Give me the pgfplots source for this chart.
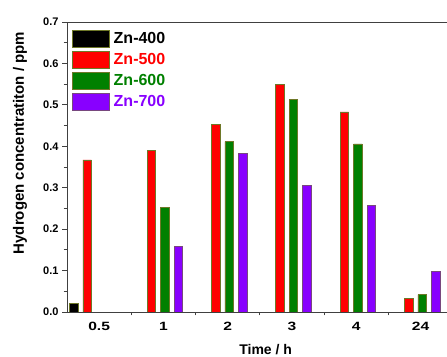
\documentclass[border=0pt]{standalone}
\usepackage{pgfplots}
\pgfplotsset{compat=1.18}
\usepackage{fontspec}
\setmainfont{Liberation Sans}
\newfontfamily\xtf[FakeStretch=1.3]{Liberation Sans}
\definecolor{cred}{RGB}{255,0,0}
\definecolor{cgreen}{RGB}{0,128,0}
\definecolor{cpurple}{RGB}{136,0,255}
\definecolor{cedge}{RGB}{110,120,40}
\begin{document}
\begin{tikzpicture}[x=1pt,y=1pt]
\useasboundingbox (0,0) rectangle (447,356);
\clip (0,0) rectangle (447,356);
\begin{axis}[
  at={(67pt,44pt)}, anchor=south west,
  scale only axis, width=385.7pt, height=290pt,
  xmin=-0.5, xmax=5.5, ymin=0, ymax=0.7,
  ybar, bar width=8.5pt,
  axis line style={black!75, line width=0.8pt},
  xtick={0,1,2,3,4,5}, xticklabels={0.5,1,2,3,4,24},
  major x tick style={draw=none},
  minor xtick={0.5,1.5,2.5,3.5,4.5},
  ytick={0,0.1,0.2,0.3,0.4,0.5,0.6,0.7},
  minor ytick={0.05,0.15,0.25,0.35,0.45,0.55,0.65},
  tick align=outside, xtick pos=bottom, ytick pos=left,
  major tick length=5pt, minor tick length=3.5pt,
  tick style={black!75, line width=0.8pt},
  /pgf/number format/assume math mode=true,
  yticklabel style={/pgf/number format/.cd, fixed, fixed zerofill, precision=1, /tikz/.cd, font=\bfseries\fontsize{11}{11}\selectfont},
  xticklabel style={font=\xtf\bfseries\fontsize{12}{12}\selectfont, yshift=-2pt},
  xlabel={Time / h},
  ylabel={Hydrogen concentratiton / ppm},
  xlabel style={font=\bfseries\fontsize{14}{14}\selectfont, at={(rel axis cs:0.515,-0.128)}, anchor=center},
  ylabel style={font=\bfseries\fontsize{15}{15}\selectfont, at={(rel axis cs:-0.122,0.583)}, anchor=center, rotate=0},
  legend style={draw=none, fill=none, at={(rel axis cs:0.013,0.972)}, anchor=north west,
    inner sep=0pt, row sep=3.5pt, font=\bfseries\fontsize{16}{16}\selectfont,
    nodes={inner sep=1pt},
    /tikz/every odd column/.append style={column sep=3pt}},
  legend cell align=left,
  legend image code/.code={\draw[#1, line width=0.5pt] (0pt,-8.5pt) rectangle (37pt,8.5pt);},
]
\addplot[fill=black, draw=cedge, line width=0.5pt, bar shift=-25.5pt] coordinates {(0,0.021)};
\addplot[fill=cred, draw=cedge, line width=0.5pt, bar shift=-12pt] coordinates {(0,0.367) (1,0.390) (2,0.453) (3,0.550) (4,0.483) (5,0.033)};
\addplot[fill=cgreen, draw=cedge, line width=0.5pt, bar shift=1.5pt] coordinates {(1,0.253) (2,0.411) (3,0.514) (4,0.406) (5,0.042)};
\addplot[fill=cpurple, draw=cedge!60!cpurple, line width=0.5pt, bar shift=15pt] coordinates {(1,0.158) (2,0.382) (3,0.306) (4,0.258) (5,0.098)};
\legend{\textcolor{black}{Zn-400},\textcolor{cred}{Zn-500},\textcolor{cgreen}{Zn-600},\textcolor{cpurple}{Zn-700}}
\end{axis}
\end{tikzpicture}
\end{document}
